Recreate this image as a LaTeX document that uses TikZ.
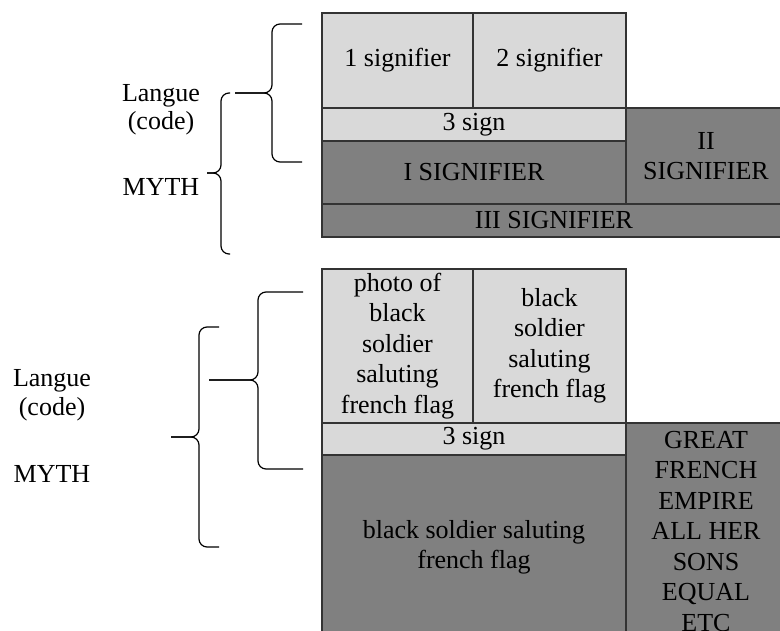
\documentclass[tikz,border=0pt]{standalone}
\usepackage{fontspec}
\setmainfont{Liberation Serif}
\usepackage{xcolor}
\definecolor{paper}{HTML}{D9D9D9}
\definecolor{shade}{HTML}{808080}
\definecolor{rule}{HTML}{333333}

\begin{document}
\begin{tikzpicture}[x=1pt, y=-1pt,
  every node/.style={font=\fontsize{26}{30.5}\selectfont},
  cell/.style={draw=rule, line width=1.1pt, inner sep=0pt, outer sep=0pt, anchor=north west, align=center},
  lite/.style={cell, fill=paper},
  dark/.style={cell, fill=shade},
  lbl/.style={anchor=base, inner sep=0pt},
  brace/.style={draw=black, line width=1.2pt, rounded corners=8pt}
]
\useasboundingbox (0,0) rectangle (780,631);
\clip (0,0) rectangle (780,631);

% Upper table: the general scheme
\node[lite, minimum width=151pt, minimum height=95pt] (sigA) at (322,13) {1 signifier};
\node[lite, minimum width=153pt, minimum height=95pt] (sigB) at (473,13) {2 signifier};
\node[lite, minimum width=304pt, minimum height=33pt] (signA) at (322,108) {3 sign};
\node[dark, minimum width=304pt, minimum height=63pt] (bigI) at (322,141) {I SIGNIFIER};
\node[dark, minimum width=160pt, minimum height=96pt] (bigII) at (626,108) {II\\SIGNIFIER};
\node[dark, minimum width=464pt, minimum height=33pt] (bigIII) at (322,204) {III SIGNIFIER};

% Lower table: the soldier example
\node[lite, minimum width=151pt, minimum height=154pt] (photo) at (322,269) {photo of\\black\\soldier\\saluting\\french flag};
\node[lite, minimum width=153pt, minimum height=154pt] (meaning) at (473,269) {black\\soldier\\saluting\\french flag};
\node[lite, minimum width=304pt, minimum height=32pt] (signB) at (322,423) {3 sign};
\node[dark, minimum width=304pt, minimum height=185pt] (form) at (322,455) {black soldier saluting\\french flag};
\node[dark, minimum width=160pt, minimum height=217pt] (concept) at (626,423) {GREAT\\FRENCH\\EMPIRE\\ALL HER\\SONS\\EQUAL\\ETC};

% Side labels
\node[lbl] (langA) at (161,102) {Langue};
\node[lbl] (codeA) at (161,130) {(code)};
\node[lbl] (mythA) at (161,196) {MYTH};
\node[lbl] (langB) at (52,387) {Langue};
\node[lbl] (codeB) at (52,415) {(code)};
\node[lbl] (mythB) at (52,482) {MYTH};

% Braces: tip x / bar x / point x / top y / middle y / bottom y
\foreach \tx/\vx/\px/\ya/\ym/\yb in {302/272/235/24/93/162, 230/221/207/93/173/254,
                                     303/258/209/292/380/469, 219/199/171/327/437/547} {
  \draw[brace] (\tx,\ya) -| (\vx,\ym) -- (\px,\ym);
  \draw[brace] (\tx,\yb) -| (\vx,\ym) -- (\px,\ym);
}

\end{tikzpicture}
\end{document}
